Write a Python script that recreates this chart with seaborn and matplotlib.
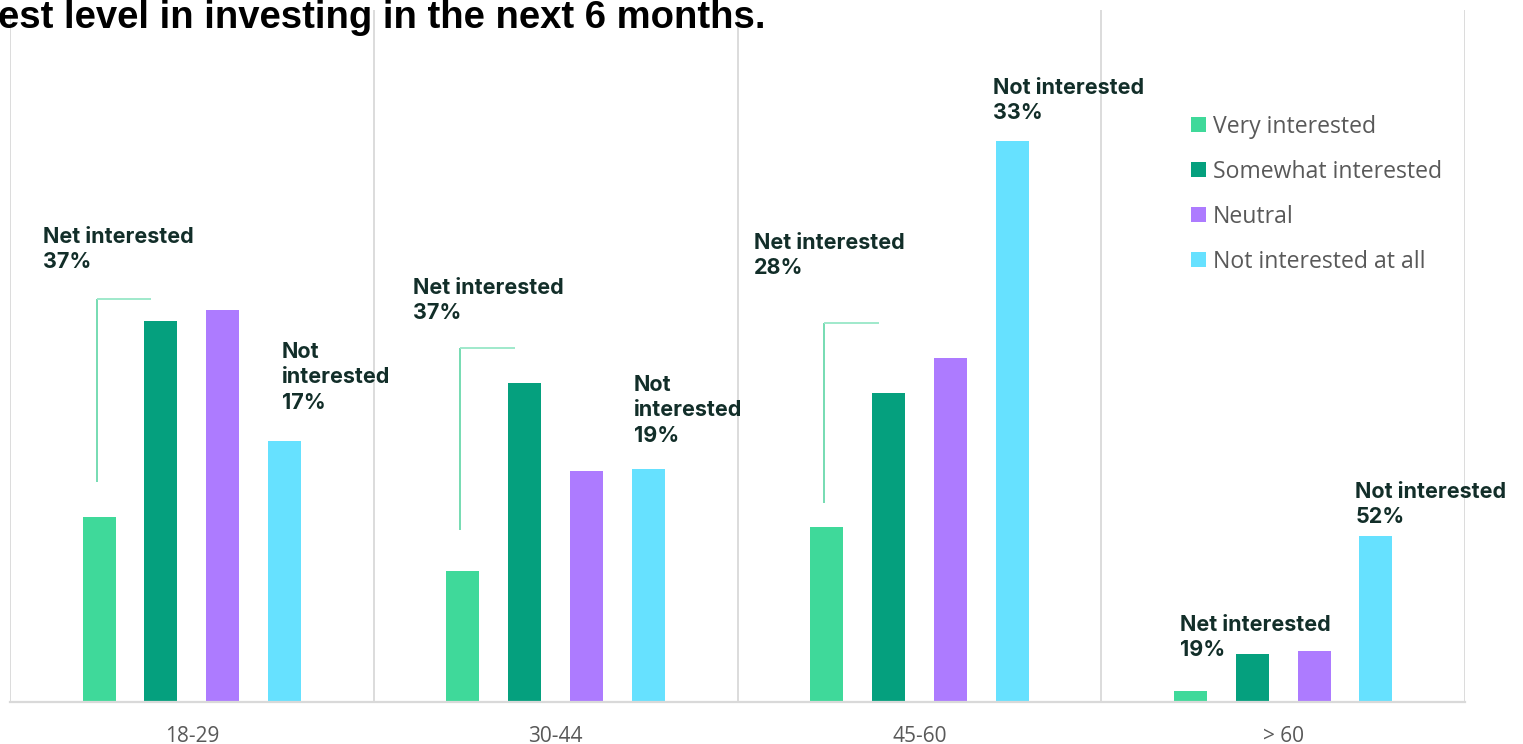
import matplotlib
matplotlib.use("Agg")
import matplotlib.pyplot as plt
import seaborn as sns
import pandas as pd

# Age groups and response categories
age_groups = ["18-29", "30-44", "45-60", "> 60"]
responses = ["Very interested", "Somewhat interested", "Neutral", "Not interested at all"]

# Respondent counts per age group
very_interested = [185, 131, 175, 11]
somewhat_interested = [381, 319, 309, 48]
neutral = [392, 231, 344, 51]
not_interested_at_all = [261, 233, 561, 166]

# Headline shares per age group
net_interested = [37, 37, 28, 19]
not_interested = [17, 19, 33, 52]

palette = ["#3fd99a", "#05a07e", "#ad7bff", "#66e1ff"]
label_color = "#122e29"
grid_color = "#d9d9d9"
text_gray = "#595959"

rows = []
for series, vals in zip(responses, [very_interested, somewhat_interested, neutral, not_interested_at_all]):
    for g, v in zip(age_groups, vals):
        rows.append({"age": g, "response": series, "count": v})
df = pd.DataFrame(rows)

sns.set_theme(style="white")
W, H = 1523, 744
fig = plt.figure(figsize=(W / 100, H / 100), dpi=100)
ax = fig.add_axes([10 / W, 42 / H, 1455 / W, 692 / H])

sns.barplot(data=df, x="age", y="count", hue="response", order=age_groups,
            hue_order=responses, palette=palette, width=0.68, gap=0.466,
            linewidth=0, saturation=1, ax=ax)

ax.set_xlim(-0.5, 3.5)
ax.set_ylim(0, 692)
ax.set_xlabel("")
ax.set_ylabel("")
ax.set_yticks([])
for s in ["top", "right", "left"]:
    ax.spines[s].set_visible(False)
ax.spines["bottom"].set_color(grid_color)
ax.spines["bottom"].set_linewidth(1.6)
ax.tick_params(axis="x", length=0, pad=17, labelsize=15, labelcolor=text_gray)
for t in ax.get_xticklabels():
    t.set_fontfamily("Open Sans")

# Group separators
for xb in [-0.5, 0.5, 1.5, 2.5, 3.5]:
    ax.axvline(xb, color=grid_color, lw=1.3, zorder=0)

# "Net interested" brackets spanning the two interested bars
bracket_low = [220, 172, 199]
bracket_high = [403, 354, 379]
for i, (lo, hi) in enumerate(zip(bracket_low, bracket_high)):
    x0 = i - 0.262
    x1 = i - 0.112
    ax.plot([x0, x0], [lo, hi], color="#5fd6a6", lw=1.2, solid_capstyle="butt")
    ax.plot([x0, x1], [hi, hi], color="#9fe9cb", lw=1.4, solid_capstyle="butt")

# Annotation placement (group-relative x, top y in count units)
net_x = [-0.409, -0.392, -0.455, -0.284]
net_y = [475, 424, 469, 87]
not_x = [0.248, 0.215, 0.202, 0.198]
not_y = [360, 327, 624, 220]
not_wrap = [True, True, False, False]

font_lab = dict(family="Inter", fontsize=15.5, fontweight="bold", color=label_color,
                va="top", ha="left", linespacing=1.33)
for i in range(4):
    ax.text(i + net_x[i], net_y[i], f"Net interested\n{net_interested[i]}%", **font_lab)
    head = "Not\ninterested" if not_wrap[i] else "Not interested"
    ax.text(i + not_x[i], not_y[i], f"{head}\n{not_interested[i]}%", **font_lab)

# Legend
leg = ax.get_legend()
handles = leg.legend_handles
labels = [t.get_text() for t in leg.texts]
leg.remove()
ax.legend(handles, labels, loc="upper left", bbox_to_anchor=(1170 / W, 1 - 94 / H),
          bbox_transform=fig.transFigure, frameon=False, handlelength=0.66,
          handleheight=0.66, handletextpad=0.3, labelspacing=0.91,
          prop={"family": "Open Sans", "size": 16.6}, labelcolor=text_gray)

fig.text(-2 / W, 1 - 0 / H, "est level in investing in the next 6 months.",
         fontsize=27.5, fontweight="bold", family="Liberation Sans", color="black",
         va="top", ha="left")

fig.savefig("out.png", dpi=100)
